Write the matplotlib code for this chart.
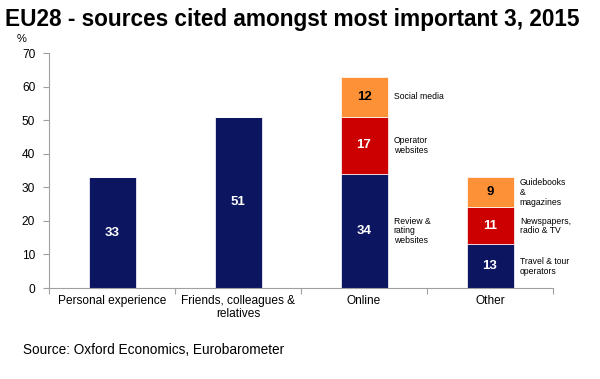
import matplotlib.pyplot as plt
import numpy as np

plt.rcParams['font.family'] = ['Liberation Sans', 'DejaVu Sans']

# Data
categories = ["Personal experience", "Friends, colleagues &\nrelatives", "Online", "Other"]
base_vals = [33, 51, 34, 13]
mid_vals = [0, 0, 17, 11]
top_vals = [0, 0, 12, 9]
online_labels = ["Review &\nrating\nwebsites", "Operator\nwebsites", "Social media"]
other_labels = ["Travel & tour\noperators", "Newspapers,\nradio & TV", "Guidebooks\n&\nmagazines"]

navy = "#0b1560"
red = "#cc0000"
orange = "#fd9138"

fig = plt.figure(figsize=(6, 3.79), dpi=100)
ax = fig.add_axes([0.0817, 0.240, 0.84, 0.620])

x = np.arange(len(categories))
w = 0.373
base = np.array(base_vals)
mid = np.array(mid_vals)
top = np.array(top_vals)

ax.bar(x, base, w, color=navy, edgecolor="white", linewidth=0.5)
ax.bar(x, mid, w, bottom=base, color=red, edgecolor="white", linewidth=0.5)
ax.bar(x, top, w, bottom=base + mid, color=orange, edgecolor="white", linewidth=0.5)

# value labels inside the segments
for i in range(len(categories)):
    ax.text(x[i], base[i] / 2, str(base[i]), ha="center", va="center",
            color="white", fontsize=9.5, fontweight="bold")
    if mid[i]:
        ax.text(x[i], base[i] + mid[i] / 2, str(mid[i]), ha="center", va="center",
                color="white", fontsize=9.5, fontweight="bold")
    if top[i]:
        ax.text(x[i], base[i] + mid[i] + top[i] / 2, str(top[i]), ha="center", va="center",
                color="black", fontsize=9.5, fontweight="bold")

# segment notes to the right of the stacked bars
for i, labels in ((2, online_labels), (3, other_labels)):
    segs = [base[i], mid[i], top[i]]
    bottoms = [0, base[i], base[i] + mid[i]]
    for lab, b, s in zip(labels, bottoms, segs):
        ax.text(x[i] + w / 2 + 0.05, b + s / 2, lab, ha="left", va="center",
                fontsize=6.2, linespacing=1.1, clip_on=False)

ax.set_xlim(-0.5, 3.5)
ax.set_ylim(0, 70)
ax.set_yticks(range(0, 71, 10))
ax.set_xticks(x)
ax.set_xticklabels(categories, fontsize=8.6, linespacing=1.15)
ax.set_xticks(np.arange(-0.5, 4, 1), minor=True)
ax.tick_params(axis="x", which="major", length=0, pad=5)
ax.tick_params(axis="x", which="minor", length=4, color="#a0a0a0", width=0.8)
ax.tick_params(axis="y", labelsize=8.6, length=4, color="#a0a0a0", width=0.8, pad=6)

for s in ("top", "right"):
    ax.spines[s].set_visible(False)
for s in ("left", "bottom"):
    ax.spines[s].set_color("#a0a0a0")
    ax.spines[s].set_linewidth(0.8)

fig.text(0.008, 0.948, "EU28 - sources cited amongst most important 3, 2015",
         fontsize=16.3, fontweight="bold", ha="left", va="center")
fig.text(0.028, 0.898, "%", fontsize=8, ha="left", va="center")
fig.text(0.038, 0.077, "Source: Oxford Economics, Eurobarometer",
         fontsize=9.8, ha="left", va="center")

fig.savefig("out.png", dpi=100)
